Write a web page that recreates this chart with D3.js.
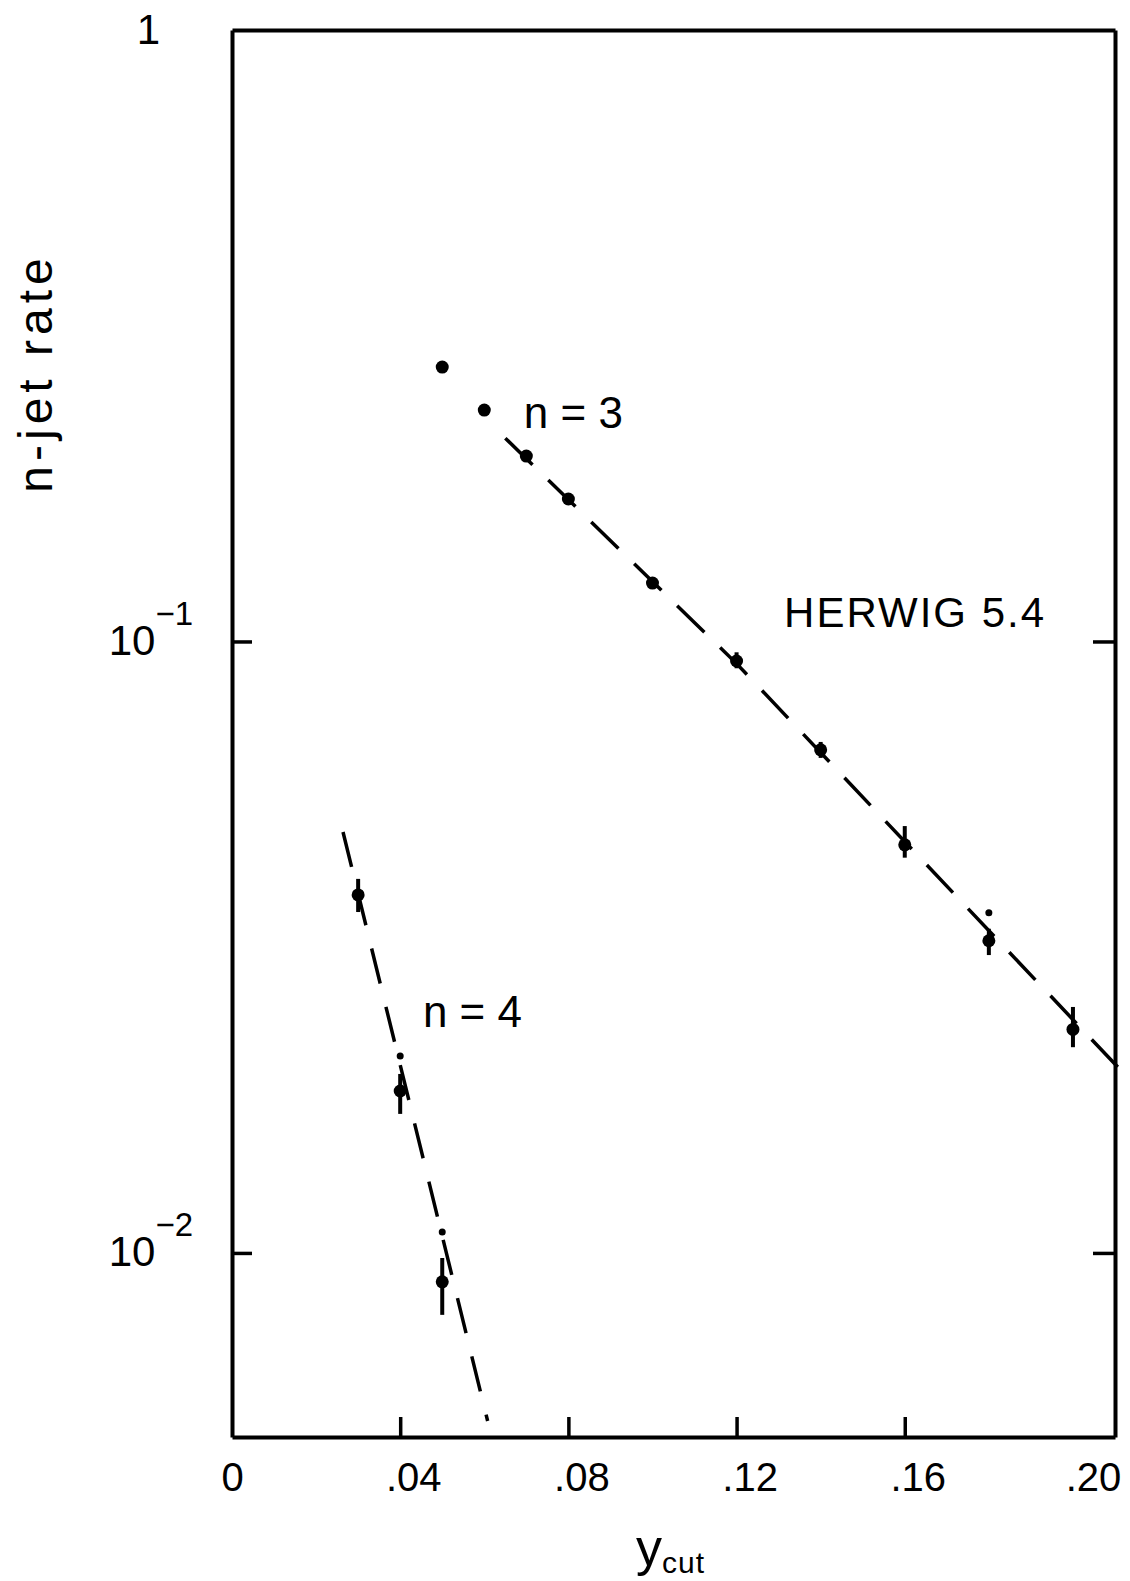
<!DOCTYPE html>
<html>
<head>
<meta charset="utf-8">
<script src="https://cdn.jsdelivr.net/npm/d3@7"></script>
<style>
  body { margin: 0; background: #fff; }
  text { font-family: "Liberation Sans", Arial, sans-serif; fill: #000; }
</style>
</head>
<body>
<div id="chart"></div>
<script>
const width = 1130,
  height = 1581;
const margin = { top: 30, right: 15, bottom: 144, left: 232 };

// n = 3 jet rate (HERWIG 5.4)
const yCut3 = [0.05, 0.06, 0.07, 0.08, 0.10, 0.12, 0.14, 0.16, 0.18, 0.20];
const rate3 = [0.281, 0.239, 0.201, 0.171, 0.1246, 0.0929, 0.0665, 0.0465, 0.0324, 0.0232];
const rate3Lo = [null, null, null, null, null, 0.0904, 0.0645, 0.0443, 0.0307, 0.0217];
const rate3Hi = [null, null, null, null, null, 0.0960, 0.0685, 0.0499, 0.0339, 0.02525];

// n = 4 jet rate
const yCut4 = [0.03, 0.04, 0.05];
const rate4 = [0.0385, 0.0184, 0.00897];
const rate4Lo = [0.0361, 0.01688, 0.00792];
const rate4Hi = [0.0409, 0.01962, 0.00981];

// small marks on the fitted curves
const markX = [0.18, 0.04, 0.05];
const markY = [0.0360, 0.0210, 0.01082];

// dashed fit lines
const fit3X = [0.065, 0.12, 0.2135];
const fit3Y = [0.215, 0.092, 0.0192];
const fit4X = [0.0264, 0.0608];
const fit4Y = [0.0488, 0.00531];

const xTicks = [0, 0.04, 0.08, 0.12, 0.16, 0.20];
const yTicks = [1, 0.1, 0.01];

const x = d3.scaleLinear()
  .domain([0, 0.21])
  .range([margin.left, width - margin.right]);

const y = d3.scaleLog()
  .domain([0.005, 1])
  .range([height - margin.bottom, margin.top]);

const svg = d3.select("#chart").append("svg")
  .attr("width", width)
  .attr("height", height);

svg.append("rect")
  .attr("width", width)
  .attr("height", height)
  .attr("fill", "#fff");

const styleAxis = (g) => {
  g.select(".domain").attr("stroke", "#000").attr("stroke-width", 4);
  g.selectAll(".tick line").attr("stroke", "#000").attr("stroke-width", 3.5);
  g.selectAll(".tick text").attr("font-size", 40).attr("font-family", "Liberation Sans");
};

// bottom axis
svg.append("g")
  .attr("transform", `translate(0,${height - margin.bottom})`)
  .call(d3.axisBottom(x)
    .tickValues(xTicks)
    .tickSize(-20)
    .tickSizeOuter(0)
    .tickPadding(26)
    .tickFormat((d) => d === 0 ? "0" : "." + d3.format("02d")(Math.round(d * 100))))
  .call(styleAxis)
  .call((g) => {
    g.selectAll(".tick line").filter((d) => d === 0 || d >= 0.2).remove();
    g.selectAll(".tick text").attr("dx", (d) => d === 0 ? 0 : (d >= 0.2 ? 20 : 13));
  });

// top axis
svg.append("g")
  .attr("transform", `translate(0,${margin.top})`)
  .call(d3.axisTop(x).tickValues([]).tickSizeOuter(0))
  .call(styleAxis);

// left axis
svg.append("g")
  .attr("transform", `translate(${margin.left},0)`)
  .call(d3.axisLeft(y)
    .tickValues(yTicks)
    .tickSize(-20)
    .tickSizeOuter(0)
    .tickPadding(39))
  .call(styleAxis)
  .call((g) => {
    g.selectAll(".tick line").filter((d) => d === 1).remove();
    g.selectAll(".tick text").each(function (d) {
      const t = d3.select(this).text("").attr("font-size", 42);
      if (d === 1) {
        t.attr("dx", -33).attr("dy", "0.32em").text("1");
      } else {
        t.attr("dy", "0.3em");
        t.append("tspan").text("10");
        t.append("tspan")
          .attr("font-size", 33)
          .attr("dx", 0)
          .attr("dy", -30)
          .text("\u2212" + Math.round(-Math.log10(d)));
      }
    });
  });

// right axis
svg.append("g")
  .attr("transform", `translate(${width - margin.right},0)`)
  .call(d3.axisRight(y)
    .tickValues([0.1, 0.01])
    .tickSize(-22)
    .tickSizeOuter(0)
    .tickFormat(() => ""))
  .call(styleAxis);

// axis titles
svg.append("text")
  .attr("transform", `translate(52,373) rotate(-90)`)
  .attr("text-anchor", "middle")
  .attr("font-size", 48)
  .attr("letter-spacing", 5)
  .text("n-jet rate");

const xTitle = svg.append("text")
  .attr("x", 636)
  .attr("y", 1565)
  .attr("font-size", 52);
xTitle.append("tspan").text("y");
xTitle.append("tspan")
  .attr("font-size", 30)
  .attr("dy", 8)
  .attr("letter-spacing", 1)
  .text("cut");

// dashed fits
const line = d3.line()
  .x((d) => x(d[0]))
  .y((d) => y(d[1]));

svg.append("path")
  .datum(fit3X.map((v, i) => [v, fit3Y[i]]))
  .attr("d", line)
  .attr("fill", "none")
  .attr("stroke", "#000")
  .attr("stroke-width", 3.5)
  .attr("stroke-dasharray", "38,22");

svg.append("path")
  .datum(fit4X.map((v, i) => [v, fit4Y[i]]))
  .attr("d", line)
  .attr("fill", "none")
  .attr("stroke", "#000")
  .attr("stroke-width", 3.5)
  .attr("stroke-dasharray", "36,24");

// data points
const pts = yCut3.map((v, i) => ({ x: v, y: rate3[i], lo: rate3Lo[i], hi: rate3Hi[i] }))
  .concat(yCut4.map((v, i) => ({ x: v, y: rate4[i], lo: rate4Lo[i], hi: rate4Hi[i] })));

svg.selectAll(".err")
  .data(pts.filter((d) => d.lo !== null))
  .enter()
  .append("line")
  .attr("class", "err")
  .attr("x1", (d) => x(d.x))
  .attr("x2", (d) => x(d.x))
  .attr("y1", (d) => y(d.lo))
  .attr("y2", (d) => y(d.hi))
  .attr("stroke", "#000")
  .attr("stroke-width", 4);

svg.selectAll(".pt")
  .data(pts)
  .enter()
  .append("circle")
  .attr("class", "pt")
  .attr("cx", (d) => x(d.x))
  .attr("cy", (d) => y(d.y))
  .attr("r", 6.5)
  .attr("fill", "#000");

svg.selectAll(".mark")
  .data(markX.map((v, i) => [v, markY[i]]))
  .enter()
  .append("circle")
  .attr("class", "mark")
  .attr("cx", (d) => x(d[0]))
  .attr("cy", (d) => y(d[1]))
  .attr("r", 3.5)
  .attr("fill", "#000");

// annotations
svg.append("text")
  .attr("x", x(0.0694))
  .attr("y", y(0.2234))
  .attr("font-size", 44)
  .text("n = 3");

svg.append("text")
  .attr("x", x(0.0454))
  .attr("y", y(0.0234))
  .attr("font-size", 44)
  .text("n = 4");

svg.append("text")
  .attr("x", x(0.1313))
  .attr("y", y(0.1056))
  .attr("font-size", 42)
  .attr("letter-spacing", 2)
  .text("HERWIG 5.4");
</script>
</body>
</html>
